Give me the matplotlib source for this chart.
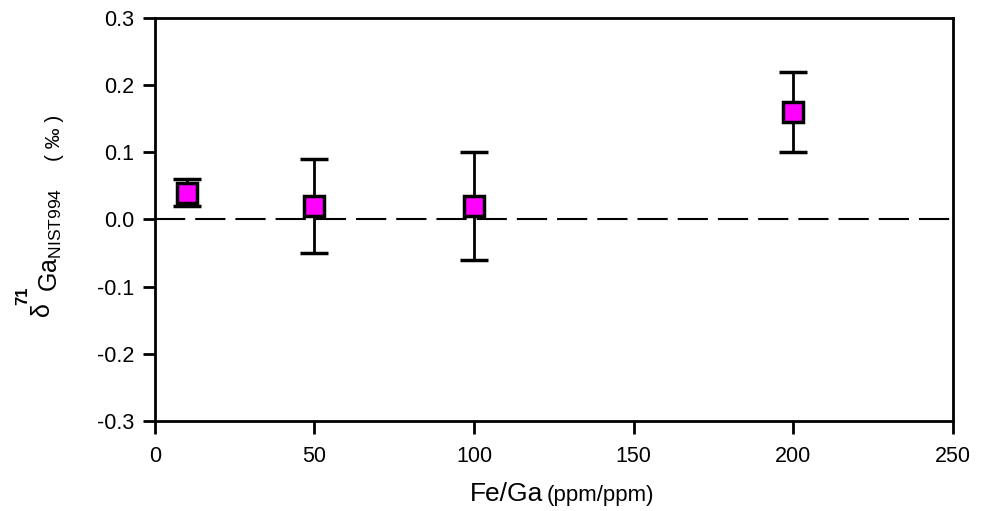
import matplotlib
matplotlib.use("Agg")
import matplotlib.pyplot as plt
import numpy as np

plt.rcParams['font.family'] = ['Liberation Sans', 'DejaVu Sans']
plt.rcParams['mathtext.fontset'] = 'custom'
plt.rcParams['mathtext.rm'] = 'Liberation Sans'
plt.rcParams['mathtext.it'] = 'Liberation Sans:italic'

# Fe/Ga ratio vs measured delta 71Ga (per mil), with 2SD error bars
fe_ga = [10, 50, 100, 200]
d71ga = [0.04, 0.02, 0.02, 0.16]
err = [0.02, 0.07, 0.08, 0.06]

xticks = [0, 50, 100, 150, 200, 250]
yticks = [-0.3, -0.2, -0.1, 0.0, 0.1, 0.2, 0.3]

fig = plt.figure(figsize=(9.86, 5.11), dpi=100)
ax = fig.add_axes([0.157, 0.176, 0.8095, 0.789])

ax.axhline(0, color='black', lw=1.5, ls=(0, (14.5, 4.8)), zorder=1)
ax.errorbar(fe_ga, d71ga, yerr=err, fmt='s', ms=15, mfc='#ff00ff', mec='black',
            mew=2.5, ecolor='black', elinewidth=2, capsize=10, capthick=2, zorder=3)

ax.set_xlim(0, 250)
ax.set_ylim(-0.3, 0.3)
ax.set_xticks(xticks)
ax.set_yticks(yticks)
ax.set_xticklabels([str(t) for t in xticks])
ax.set_yticklabels(['%.1f' % t for t in yticks])
ax.tick_params(direction='out', length=9, width=2, labelsize=15.5)
ax.tick_params(axis='x', pad=9)
ax.tick_params(axis='y', pad=6)
for sp in ax.spines.values():
    sp.set_linewidth(2)

# axis titles, built from pieces with different sizes
W, H = 986, 511
fig.text(543 / W, 1 - 494 / H, 'Fe/Ga', ha='right', va='center', fontsize=19)
fig.text(547 / W, 1 - 495 / H, '(ppm/ppm)', ha='left', va='center', fontsize=16)

fig.text(23 / W, 1 - 296 / H, '71', rotation=90, ha='center', va='center',
         fontsize=12, fontweight='bold')
fig.text(42 / W, 1 - 309 / H, 'δ', rotation=90, ha='center', va='center',
         fontsize=18)
fig.text(51 / W, 1 - 292 / H, r'$\mathrm{Ga}_{\mathrm{NIST994}}$',
         rotation=90, ha='center', va='bottom', fontsize=18)
fig.text(54 / W, 1 - 138 / H, '( ‰ )', rotation=90, ha='center', va='center',
         fontsize=15)

fig.savefig('out.png', dpi=100)
